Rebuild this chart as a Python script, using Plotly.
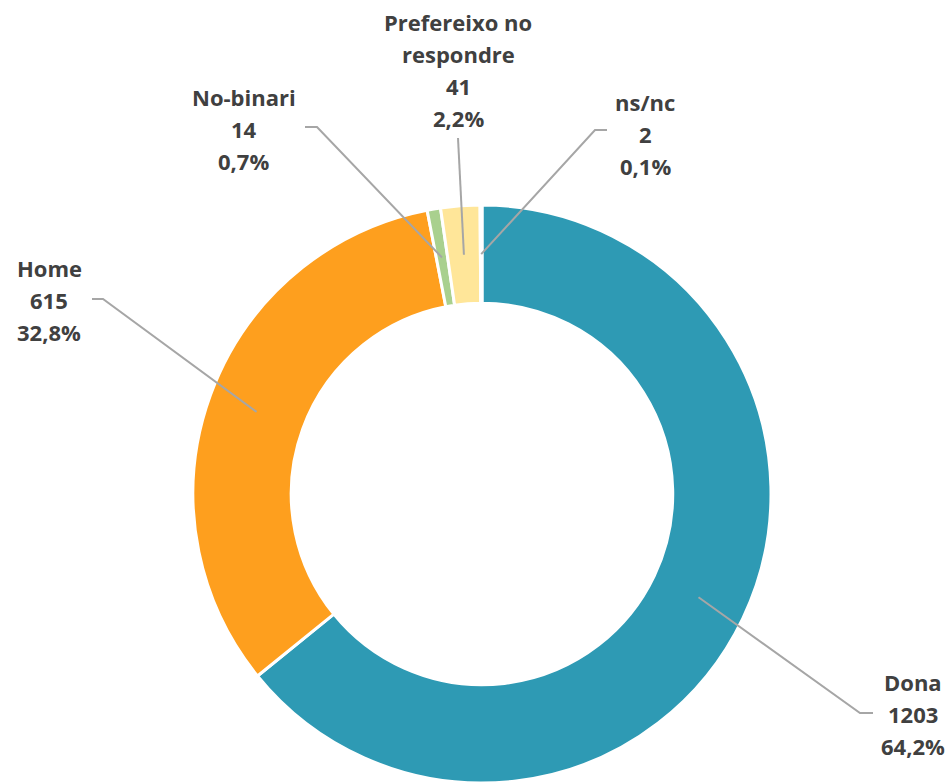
import math
import plotly.graph_objects as go

# ---- data ----
categories = ["Dona", "Home", "No-binari", "Prefereixo no respondre", "ns/nc"]
label_lines = [["Dona"], ["Home"], ["No-binari"], ["Prefereixo no", "respondre"], ["ns/nc"]]
values = [1203, 615, 14, 41, 2]
pct_labels = ["64,2%", "32,8%", "0,7%", "2,2%", "0,1%"]
colors = ["#2E9AB4", "#FE9F1E", "#A9D08E", "#FFE699", "#FFFFFF"]

# ---- layout constants (pixels) ----
W, H = 952, 783
R_OUT = 289
HOLE = 0.66
CX, CY = 482, 494  # pie centre in pixels (from top-left)

# label placement: (centre x, first line y) and leader elbow / end (pixels)
label_pos = [(913, 682), (49, 268), (244, 97), (458, 22), (645, 102)]
leader_elbow = [(860, 713), (103, 299), (317, 127), None, (595, 130)]
leader_end = [(873, 713), (92, 299), (305, 127), (458, 138), (607, 130)]
LINE_H = 32

def px2paper(x, y):
    return x / W, 1 - y / H

dx0, dx1 = (CX - R_OUT) / W, (CX + R_OUT) / W
dy0, dy1 = 1 - (CY + R_OUT) / H, 1 - (CY - R_OUT) / H

fig = go.Figure(go.Pie(
    labels=categories, values=values, hole=HOLE, sort=False,
    direction="clockwise", rotation=0,
    marker=dict(colors=colors, line=dict(color="white", width=3)),
    textinfo="none", hoverinfo="label+value+percent", showlegend=False,
    domain=dict(x=[dx0, dx1], y=[max(dy0, 0), dy1]),
))

total = sum(values)
r_mid = R_OUT * (1 + HOLE) / 2
cum = 0
shapes = []
annotations = []
for i, v in enumerate(values):
    frac_mid = (cum + v / 2) / total
    cum += v
    ang = 2 * math.pi * frac_mid
    rx = CX + r_mid * math.sin(ang)
    ry = CY - r_mid * math.cos(ang)
    pts = [(rx, ry)]
    if leader_elbow[i] is not None:
        pts.append(leader_elbow[i])
    pts.append(leader_end[i])
    path = ""
    for j, (x, y) in enumerate(pts):
        px, py = px2paper(x, y)
        path += ("M" if j == 0 else " L") + f"{px:.5f},{py:.5f}"
    shapes.append(dict(type="path", path=path, xref="paper", yref="paper",
                       line=dict(color="#A6A6A6", width=2)))
    lines = label_lines[i] + [str(v), pct_labels[i]]
    lx, ly = label_pos[i]
    for k, t in enumerate(lines):
        ax, ay = px2paper(lx, ly + k * LINE_H)
        annotations.append(dict(text=f"<b>{t}</b>", x=ax, y=ay, xref="paper", yref="paper",
                                xanchor="center", yanchor="middle", showarrow=False,
                                font=dict(family="Open Sans", size=22, color="#404040")))

fig.update_layout(
    width=W, height=H,
    margin=dict(l=0, r=0, t=0, b=0),
    paper_bgcolor="white", plot_bgcolor="white",
    shapes=shapes, annotations=annotations,
)
fig.write_html("out.html", config={"displayModeBar": False},
               post_script="document.body.style.margin='0';document.body.style.overflow='hidden';")
